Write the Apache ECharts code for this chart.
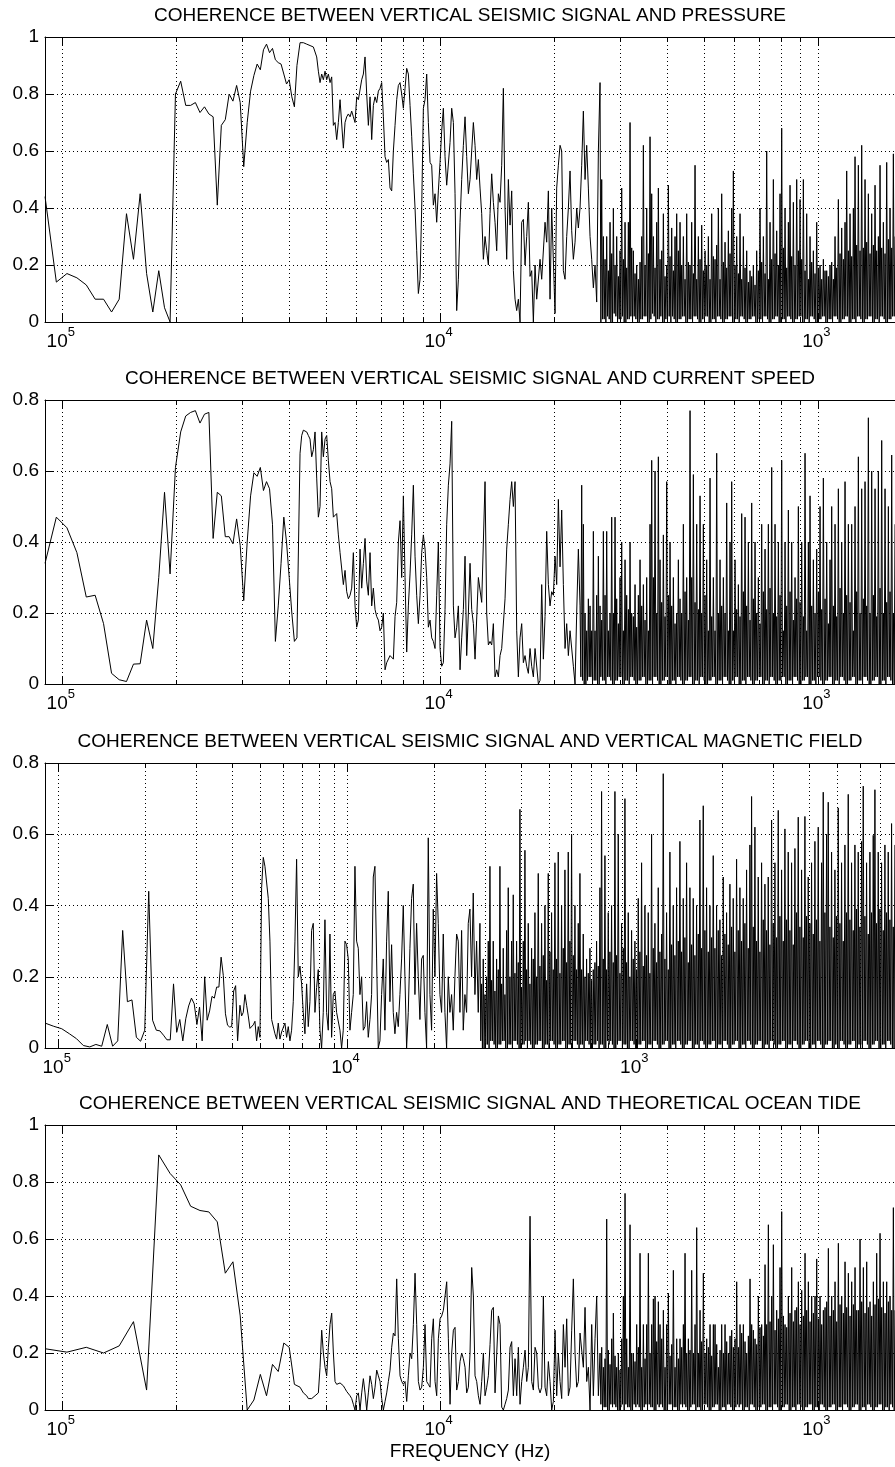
<!DOCTYPE html>
<html><head><meta charset="utf-8">
<script src="https://cdn.jsdelivr.net/npm/echarts@6.0.0/dist/echarts.min.js"></script>
<style>html,body{margin:0;padding:0;background:#fff}#c{width:895px;height:1467px}</style>
</head><body><div id="c"></div>
<script>
// ---------------- data ----------------
const DF = 6.43e-7;        // frequency resolution of spectra (Hz)
const DF_TIDE = 1.286e-6;  // resolution of the tide spectrum (Hz)
const LOG0 = -4.3707;      // log10 of first frequency of the log-spaced band
const STEP_A = 0.0044115;  // log10 step of log band (panels 1,2,4)
const STEP_C = 0.005771;   // log10 step of log band (panel 3)

const titles = [
  'COHERENCE BETWEEN VERTICAL SEISMIC SIGNAL AND PRESSURE',
  'COHERENCE BETWEEN VERTICAL SEISMIC SIGNAL AND CURRENT SPEED',
  'COHERENCE BETWEEN VERTICAL SEISMIC SIGNAL AND VERTICAL MAGNETIC FIELD',
  'COHERENCE BETWEEN VERTICAL SEISMIC SIGNAL AND THEORETICAL OCEAN TIDE'
];
const xLabelText = 'FREQUENCY (Hz)';
const xMajorTicks = [1e-5, 1e-4, 1e-3];
const xMin = 9e-6;
const xMax = [1.6e-3, 1.6e-3, 7.9e-3, 1.6e-3];
const yMax = [1, 0.8, 0.8, 1];

// ---- panel 1 : pressure ----
const p1Low = [0.44,0.14,0.17,0.155,0.13,0.08,0.08,0.035,0.08,0.38,
0.22,0.45,0.17,0.035,0.18,0.05,0.0,0.80,0.845,0.76,
0.76,0.77,0.735,0.755,0.73,0.72,0.41,0.69,0.71,0.80,
0.775,0.83,0.77,0.545,0.70,0.81,0.865,0.905,0.885,0.955,
0.975,0.945,0.96,0.92,0.91,0.905,0.87,0.835,0.85,0.79,
0.755,0.90];
const p1Mid = [0.98,0.985,0.98,0.98,0.975,0.975,0.97,0.97,0.965,0.96,
0.93,0.88,0.84,0.87,0.85,0.88,0.85,0.87,0.84,0.86,
0.69,0.70,0.64,0.70,0.78,0.78,0.61,0.70,0.72,0.73,
0.72,0.74,0.72,0.70,0.79,0.78,0.78,0.85,0.87,0.93,
0.80,0.69,0.79,0.64,0.76,0.79,0.77,0.81,0.82,0.84,
0.72,0.58,0.56,0.57,0.47,0.46,0.60,0.69,0.78,0.83,
0.84,0.80,0.75,0.82,0.89,0.87,0.76,0.65,0.52,0.40,
0.25,0.10,0.15,0.40,0.75,0.78,0.87,0.70,0.56,0.55,
0.41,0.45,0.35,0.46,0.56,0.67,0.75,0.58,0.48,0.48,
0.63,0.75,0.70,0.45,0.04,0.15,0.35,0.50,0.62,0.72,
0.58,0.45,0.50,0.60,0.70,0.62,0.50,0.57,0.47,0.38,
0.22,0.30,0.25,0.20,0.38,0.52,0.42,0.35,0.25,0.45,
0.42,0.55,0.82,0.40,0.22,0.50,0.34,0.46,0.18,0.08,
0.04,0.08,0.0,0.35,0.36,0.20,0.30,0.42,0.16,0.18,
0.0,0.20,0.08,0.08,0.22,0.15,0.15,0.35,0.28,0.46,
0.08,0.40,0.40,0.03,0.47,0.55,0.62,0.60,0.18,0.15,
0.30,0.40,0.53,0.32,0.22,0.28,0.40,0.33,0.40,
0.55,0.74,0.50,0.62,0.47,0.30,0.22,0.12,0.20,0.07,0.60,0.84];
const p1Dense = [0.0,0.50,0.01,0.30,0.01,0.22,0.0,0.30,0.02,0.18,0.01,0.35,0.0,0.24,0.0,0.40,
0.03,0.20,0.02,0.30,0.0,0.16,0.01,0.25,0.01,0.47,0.02,0.22,0.0,0.35,0.0,0.19,0.01,0.35,0.01,0.70,
0.02,0.26,0.0,0.25,0.02,0.17,0.01,0.20,0.0,0.15,0.0,0.21,0.01,0.30,0.01,0.62,0.02,0.20,0.02,0.40,
0.0,0.24,0.0,0.65,0.01,0.45,0.03,0.30,0.02,0.19,0.0,0.35,0.01,0.47,0.01,0.22,0.02,0.25,0.0,0.38,
0.0,0.16,0.01,0.20,0.01,0.48,0.02,0.23,0.0,0.33,0.02,0.18,0.01,0.30,0.0,0.38,0.0,0.25,0.01,0.35,
0.01,0.20,0.02,0.30,0.02,0.15,0.0,0.38,0.0,0.21,0.01,0.20,0.01,0.35,0.0,0.17,0.02,0.55,0.02,0.15,
0.01,0.30,0.0,0.22,0.0,0.34,0.01,0.18,0.01,0.25,0.02,0.20,0.02,0.30,0.0,0.15,0.0,0.38,0.01,0.23,
0.01,0.22,0.0,0.27,0.02,0.40,0.02,0.15,0.01,0.45,0.0,0.21,0.0,0.28,0.01,0.19,0.01,0.32,0.02,0.24,
0.02,0.40,0.0,0.53,0.0,0.20,0.01,0.30,0.01,0.17,0.0,0.38,0.02,0.15,0.02,0.30,0.01,0.19,0.0,0.25,
0.0,0.14,0.01,0.18,0.01,0.16,0.02,0.20,0.02,0.13,0.0,0.25,0.0,0.18,0.01,0.40,0.01,0.21,0.0,0.30,
0.02,0.17,0.02,0.60,0.01,0.15,0.0,0.35,0.0,0.22,0.01,0.50,0.01,0.24,0.02,0.32,0.02,0.20,0.0,0.45,
0.0,0.68,0.01,0.26,0.01,0.40,0.0,0.19,0.02,0.35,0.02,0.48,0.01,0.23,0.0,0.42,0.0,0.20,0.01,0.50,
0.01,0.25,0.02,0.43,0.02,0.22,0.0,0.50,0.0,0.18,0.01,0.38,0.01,0.15,0.0,0.30,0.02,0.21,0.02,0.25,
0.01,0.17,0.0,0.35,0.0,0.19,0.01,0.20,0.01,0.15,0.02,0.22,0.02,0.18,0.0,0.18,0.0,0.16,0.01,0.20,
0.01,0.21,0.0,0.15,0.02,0.30,0.02,0.19,0.01,0.43,0.0,0.24,0.0,0.33,0.01,0.22,0.01,0.35,0.02,0.53,
0.02,0.25,0.0,0.38,0.0,0.23,0.01,0.40,0.01,0.58,0.0,0.27,0.02,0.55,0.02,0.25,0.01,0.62,0.0,0.26,
0.0,0.50,0.01,0.28,0.01,0.45,0.02,0.24,0.02,0.38,0.0,0.27,0.0,0.48,0.01,0.25,0.01,0.30,0.0,0.55,
0.02,0.26,0.02,0.35,0.01,0.24,0.0,0.56,0.0,0.29,0.01,0.40,0.01,0.26,0.02,0.59,0.02,0.30];

// ---- panel 2 : current speed ----
const p2Low = [0.34,0.47,0.44,0.37,0.245,0.25,0.17,0.03,0.012,0.007,
0.056,0.057,0.18,0.10,0.30,0.54,0.31,0.61,0.71,0.755,
0.765,0.77,0.735,0.76,0.765,0.41,0.54,0.53,0.415,0.415,
0.395,0.465,0.39,0.235,0.40,0.53,0.595,0.585,0.61,0.545,
0.57,0.55,0.45,0.12,0.22,0.34,0.47,0.40,0.30,0.20,
0.12,0.13];
const p2Mid = [0.65,0.70,0.715,0.72,0.71,0.70,0.69,0.64,0.66,0.71,
0.58,0.47,0.50,0.71,0.64,0.69,0.70,0.63,0.57,0.55,
0.47,0.47,0.48,0.42,0.37,0.37,0.28,0.32,0.26,0.24,
0.25,0.27,0.37,0.22,0.16,0.18,0.38,0.27,0.34,0.41,
0.29,0.25,0.37,0.22,0.27,0.21,0.19,0.18,0.15,0.16,
0.20,0.04,0.06,0.06,0.08,0.08,0.07,0.19,0.23,0.40,
0.46,0.30,0.53,0.30,0.09,0.22,0.31,0.42,0.56,0.36,
0.25,0.17,0.25,0.37,0.42,0.38,0.30,0.16,0.18,0.13,
0.12,0.10,0.25,0.40,0.10,0.05,0.06,0.21,0.45,0.56,
0.62,0.74,0.22,0.13,0.16,0.22,0.04,0.13,0.21,0.36,
0.08,0.20,0.34,0.21,0.17,0.07,0.07,0.30,0.30,0.23,
0.40,0.57,0.20,0.11,0.12,0.11,0.17,0.02,0.04,0.02,
0.08,0.10,0.10,0.24,0.38,0.45,0.52,0.57,0.50,0.57,
0.15,0.02,0.13,0.17,0.06,0.08,0.05,0.03,0.10,0.05,
0.02,0.10,0.10,0.00,0.01,0.28,0.07,0.19,0.43,0.28,
0.22,0.26,0.25,0.36,0.28,0.52,0.33,0.49,0.28,0.10,
0.17,0.08,0.15,0.15,0.05,0.00,0.20,0.38,0.22];
const p2Dense = [0.02,0.56,0.01,0.45,0.0,0.20,0.0,0.15,0.01,0.24,0.02,0.22,0.02,0.15,0.0,0.43,0.01,0.15,0.01,0.25,
0.0,0.36,0.0,0.22,0.02,0.18,0.01,0.43,0.01,0.25,0.0,0.43,0.02,0.15,0.02,0.20,0.01,0.47,0.0,0.20,
0.0,0.47,0.01,0.24,0.01,0.17,0.02,0.30,0.02,0.40,0.0,0.15,0.0,0.35,0.01,0.25,0.01,0.21,0.0,0.40,
0.02,0.20,0.02,0.19,0.01,0.28,0.0,0.16,0.0,0.25,0.01,0.35,0.01,0.22,0.02,0.28,0.02,0.18,0.0,0.30,
0.0,0.15,0.01,0.45,0.01,0.63,0.0,0.30,0.02,0.60,0.02,0.20,0.01,0.64,0.0,0.35,0.0,0.23,0.01,0.42,
0.01,0.19,0.02,0.57,0.02,0.25,0.0,0.40,0.0,0.22,0.01,0.30,0.01,0.17,0.0,0.20,0.02,0.35,0.02,0.24,
0.01,0.20,0.0,0.45,0.0,0.26,0.01,0.30,0.01,0.18,0.02,0.77,0.02,0.30,0.0,0.59,0.0,0.23,0.01,0.45,
0.01,0.21,0.0,0.53,0.02,0.20,0.02,0.45,0.01,0.25,0.0,0.35,0.0,0.15,0.01,0.58,0.01,0.19,0.02,0.30,
0.02,0.15,0.0,0.65,0.0,0.20,0.01,0.35,0.01,0.22,0.0,0.30,0.02,0.20,0.02,0.51,0.01,0.15,0.0,0.40,
0.0,0.57,0.01,0.15,0.01,0.35,0.02,0.21,0.02,0.28,0.0,0.19,0.0,0.48,0.01,0.26,0.01,0.47,0.0,0.22,
0.02,0.40,0.02,0.18,0.01,0.51,0.0,0.24,0.0,0.40,0.01,0.20,0.01,0.30,0.02,0.17,0.02,0.45,0.0,0.26,
0.0,0.38,0.01,0.21,0.01,0.45,0.0,0.27,0.02,0.61,0.02,0.20,0.01,0.45,0.0,0.19,0.0,0.40,0.01,0.25,
0.01,0.63,0.02,0.15,0.02,0.40,0.0,0.22,0.0,0.49,0.01,0.26,0.01,0.40,0.0,0.18,0.02,0.30,0.02,0.24,
0.01,0.50,0.0,0.23,0.0,0.40,0.01,0.19,0.01,0.65,0.02,0.15,0.02,0.40,0.0,0.53,0.0,0.22,0.01,0.35,
0.01,0.20,0.0,0.38,0.02,0.26,0.02,0.50,0.01,0.21,0.0,0.58,0.0,0.24,0.01,0.40,0.01,0.17,0.02,0.35,
0.02,0.50,0.0,0.22,0.0,0.45,0.01,0.19,0.01,0.55,0.0,0.27,0.02,0.40,0.02,0.20,0.01,0.57,0.0,0.25,
0.0,0.45,0.01,0.23,0.01,0.45,0.02,0.15,0.02,0.50,0.0,0.26,0.0,0.64,0.01,0.20,0.01,0.55,0.0,0.24,
0.02,0.57,0.02,0.22,0.01,0.75,0.0,0.20,0.0,0.60,0.01,0.25,0.01,0.55,0.02,0.19,0.02,0.60,0.0,0.27,
0.0,0.686,0.01,0.20,0.01,0.55,0.0,0.23,0.02,0.50,0.02,0.26,0.01,0.645,0.0,0.20,0.0,0.45];

// ---- panel 3 : vertical magnetic field ----
const p3Low = [0.07,0.061,0.054,0.04,0.026,0.007,0.003,0.01,0.005,0.066,
0.005,0.02,0.33,0.13,0.135,0.03,0.019,0.05,0.44,0.078,
0.05,0.048,0.036,0.023,0.023,0.18,0.044,0.08,0.02,0.082,
0.118,0.14,0.124,0.066,0.115,0.02,0.2,0.078,0.104,0.145,
0.14,0.171,0.171,0.255,0.204,0.096,0.064,0.059,0.06,0.16,
0.175,0.02];
const p3Mid = [0.12,0.09,0.10,0.15,0.12,0.09,0.055,0.055,0.065,0.075,
0.02,0.06,0.03,0.45,0.535,0.51,0.51,0.42,0.30,0.08,
0.075,0.04,0.025,0.07,0.025,0.045,0.05,0.07,0.03,0.06,
0.02,0.05,0.13,0.30,0.53,0.20,0.23,0.18,0.10,0.04,
0.18,0.06,0.13,0.33,0.35,0.10,0.17,0.22,0.05,0.0,
0.10,0.36,0.10,0.05,0.32,0.03,0.15,0.16,0.10,0.10,
0.05,0.0,0.05,0.30,0.29,0.25,0.05,0.10,0.15,0.51,
0.30,0.28,0.15,0.20,0.05,0.06,0.13,0.03,0.08,0.15,
0.48,0.51,0.25,0.0,0.02,0.15,0.25,0.05,0.30,0.44,
0.13,0.29,0.10,0.04,0.10,0.06,0.15,0.25,0.40,0.20,
0.0,0.10,0.28,0.42,0.46,0.15,0.35,0.20,0.08,0.25,
0.26,0.10,0.0,0.59,0.15,0.05,0.39,0.20,0.49,0.35,
0.15,0.10,0.32,0.10,0.0,0.20,0.10,0.15,0.05,0.20,
0.32,0.30,0.10,0.33,0.05,0.15,0.10,0.35,0.39,0.20,
0.435,0.15,0.30,0.10,0.35];
const p3Dense = [0.02,0.18,0.0,0.25,0.0,0.15,0.01,0.20,0.01,0.30,
0.0,0.51,0.02,0.19,0.02,0.30,0.01,0.16,0.0,0.25,0.0,0.22,0.01,0.51,0.01,0.18,0.02,0.28,0.02,0.15,
0.0,0.33,0.0,0.45,0.01,0.20,0.01,0.30,0.0,0.43,0.02,0.21,0.02,0.30,0.01,0.24,0.0,0.67,0.0,0.17,
0.01,0.30,0.01,0.555,0.02,0.22,0.0,0.35,0.02,0.18,0.01,0.28,0.0,0.25,0.0,0.38,0.01,0.20,0.01,0.49,
0.02,0.23,0.02,0.35,0.0,0.26,0.0,0.40,0.01,0.19,0.01,0.49,0.0,0.27,0.02,0.38,0.02,0.22,0.01,0.52,
0.0,0.25,0.0,0.55,0.01,0.21,0.01,0.40,0.02,0.28,0.02,0.50,0.0,0.24,0.0,0.55,0.01,0.30,0.01,0.60,
0.0,0.26,0.02,0.40,0.02,0.22,0.01,0.35,0.0,0.49,
0.01,0.22,0.01,0.32,0.0,0.20,0.02,0.25,0.02,0.21,0.01,0.28,0.0,0.19,0.0,0.22,0.01,0.24,0.01,0.30,
0.02,0.23,0.0,0.45,0.01,0.72,0.01,0.25,0.0,0.54,0.0,0.22,0.02,0.38,0.01,0.27,0.02,0.40,0.01,0.24,
0.0,0.72,0.0,0.26,0.01,0.60,0.02,0.21,0.02,0.35,0.0,0.28,0.01,0.70,0.01,0.24,0.0,0.38,0.0,0.20,
0.02,0.33,0.02,0.25,0.01,0.30,0.0,0.22,0.0,0.42,0.01,0.27,0.01,0.52,0.02,0.23,0.02,0.40,0.0,0.26,
0.0,0.38,0.01,0.21,0.01,0.60,0.0,0.28,0.02,0.35,0.02,0.24,0.01,0.45,0.0,0.27,0.0,0.32,0.01,0.77,
0.01,0.25,0.02,0.38,0.02,0.22,0.0,0.55,0.0,0.29,0.01,0.40,0.01,0.26,0.0,0.45,0.02,0.30,0.02,0.58,
0.01,0.27,0.0,0.42,0.0,0.31,0.01,0.52,0.01,0.24,0.02,0.45,0.02,0.29,0.0,0.42,0.0,0.26,0.01,0.40,
0.01,0.32,0.0,0.64,0.02,0.28,0.02,0.68,0.01,0.33,0.0,0.45,0.0,0.27,0.01,0.40,0.01,0.31,0.02,0.54,
0.02,0.28,0.0,0.40,0.0,0.33,0.01,0.36,0.01,0.26,0.0,0.48,0.02,0.32,0.02,0.38,0.01,0.29,0.0,0.46,
0.0,0.34,0.01,0.42,0.01,0.27,0.02,0.53,0.02,0.33,0.0,0.45,0.0,0.30,0.01,0.42,0.01,0.35,0.0,0.50,
0.02,0.28,0.02,0.57,0.01,0.706,0.0,0.34,0.0,0.62,0.01,0.30,0.01,0.48,0.02,0.27,0.02,0.52,0.0,0.36,
0.0,0.46,0.01,0.33,0.01,0.48,0.0,0.29,0.02,0.64,0.02,0.35,0.01,0.52,0.0,0.31,0.0,0.667,0.01,0.37,
0.01,0.50,0.02,0.30,0.02,0.615,0.0,0.36,0.0,0.55,0.01,0.33,0.01,0.52,0.0,0.29,0.02,0.56,0.02,0.38,
0.01,0.648,0.0,0.34,0.0,0.50,0.01,0.31,0.01,0.65,0.02,0.37,0.02,0.48,0.0,0.35,0.0,0.52,0.01,0.32,
0.01,0.58,0.0,0.36,0.02,0.62,0.02,0.30,0.01,0.52,0.0,0.718,0.0,0.38,0.01,0.60,0.01,0.69,0.02,0.34,
0.02,0.55,0.0,0.31,0.0,0.50,0.01,0.37,0.01,0.674,0.0,0.35,0.02,0.52,0.02,0.30,0.01,0.57,0.0,0.38,
0.0,0.712,0.01,0.36,0.01,0.52,0.02,0.33,0.02,0.57,0.0,0.39,0.0,0.55,0.01,0.34,0.01,0.58,0.0,0.735,
0.02,0.37,0.02,0.52,0.01,0.32,0.0,0.55,0.0,0.38,0.01,0.597,0.01,0.725,0.02,0.35,0.02,0.55,0.0,0.39,
0.0,0.52,0.01,0.33,0.01,0.57,0.0,0.38,0.02,0.55,0.02,0.36,0.01,0.63,0.0,0.34,0.0,0.57];

// ---- panel 4 : theoretical ocean tide ----
const p4Low = [0.215,0.203,0.22,0.20,0.225,0.31,0.07,0.895,0.83,0.79,
0.715,0.70,0.695,0.66,0.48,0.52,0.33,0.0,0.035,0.125,
0.05,0.16,0.135,0.235,0.22,0.09];
const p4Mid = [0.08,0.075,0.06,0.055,0.05,0.04,0.035,0.04,0.045,0.05,
0.055,0.06,0.15,0.28,0.20,0.15,0.12,0.22,0.30,0.34,
0.20,0.10,0.09,0.095,0.095,0.09,0.085,0.075,0.065,0.06,
0.05,0.04,0.02,0.0,0.05,0.06,0.0,0.06,0.11,0.06,
0.0,0.06,0.12,0.09,0.04,0.08,0.14,0.12,0.10,0.04,
0.0,0.03,0.06,0.10,0.14,0.22,0.27,0.26,0.46,0.25,
0.12,0.10,0.09,0.10,0.03,0.12,0.20,0.18,0.30,0.48,
0.30,0.10,0.07,0.08,0.15,0.30,0.10,0.09,0.08,0.25,
0.32,0.10,0.05,0.25,0.32,0.33,0.35,0.40,0.45,0.25,
0.02,0.20,0.28,0.29,0.07,0.10,0.17,0.20,0.18,0.15,
0.06,0.08,0.20,0.50,0.40,0.12,0.10,0.05,0.02,0.10,
0.20,0.05,0.08,0.12,0.23,0.35,0.36,0.06,0.06,0.33,
0.30,0.01,0.0,0.02,0.04,0.07,0.22,0.24,0.05,0.18,
0.05,0.22,0.02,0.10,0.15,0.21,0.10,0.15,0.68,0.10,
0.07,0.22,0.20,0.08,0.06,0.08,0.40,0.08,0.05,0.17,
0.10,0.0,0.03,0.28,0.05,0.20,0.10,0.04,0.30,0.15,
0.32,0.05,0.08,0.28,0.46,0.20,0.08,0.10,0.27,
0.27,0.15,0.36,0.10,0.15,0.0,0.30,0.05,0.25,0.40,0.05,0.20];
const p4Dense = [0.02,0.22,0.0,0.15,0.01,0.18,0.01,0.67,0.0,0.21,0.0,0.16,0.02,0.25,0.01,0.34,
0.02,0.19,0.01,0.15,0.0,0.20,0.0,0.14,0.01,0.25,0.02,0.40,0.0,0.76,0.02,0.25,0.01,0.15,0.01,0.65,
0.0,0.20,0.0,0.20,0.02,0.17,0.01,0.30,0.02,0.22,0.01,0.55,0.0,0.15,0.0,0.30,0.01,0.18,0.02,0.30,
0.0,0.55,0.02,0.20,0.01,0.30,0.01,0.39,0.0,0.40,0.0,0.24,0.02,0.38,0.01,0.30,0.02,0.25,0.01,0.35,
0.0,0.15,0.0,0.30,0.01,0.41,0.02,0.19,0.02,0.23,0.0,0.49,0.01,0.15,0.01,0.25,0.0,0.18,0.0,0.25,
0.02,0.22,0.01,0.30,0.02,0.55,0.01,0.20,0.0,0.25,0.0,0.21,0.01,0.49,0.02,0.20,0.02,0.30,0.0,0.64,
0.01,0.20,0.01,0.35,0.0,0.24,0.0,0.48,0.02,0.20,0.02,0.25,0.01,0.22,0.0,0.30,0.0,0.19,0.01,0.30,
0.01,0.30,0.02,0.23,0.02,0.15,0.0,0.21,0.0,0.30,0.01,0.20,0.01,0.30,0.0,0.24,0.02,0.20,0.02,0.26,
0.01,0.28,0.0,0.22,0.0,0.25,0.01,0.45,0.02,0.22,0.01,0.30,0.02,0.27,0.0,0.30,0.0,0.24,0.01,0.20,
0.01,0.26,0.0,0.46,0.02,0.30,0.02,0.28,0.01,0.25,0.0,0.23,0.0,0.40,0.01,0.29,0.01,0.30,0.02,0.26,
0.02,0.51,0.0,0.30,0.0,0.65,0.01,0.31,0.01,0.40,0.0,0.58,0.02,0.28,0.02,0.35,0.01,0.32,0.0,0.50,
0.0,0.696,0.01,0.33,0.01,0.30,0.02,0.29,0.02,0.40,0.0,0.34,0.0,0.50,0.01,0.31,0.01,0.35,0.0,0.36,
0.02,0.45,0.02,0.30,0.01,0.42,0.0,0.33,0.0,0.55,0.01,0.35,0.01,0.45,0.02,0.31,0.02,0.40,0.0,0.34,
0.0,0.40,0.01,0.53,0.01,0.32,0.0,0.40,0.02,0.30,0.02,0.35,0.01,0.36,0.0,0.38,0.0,0.567,0.01,0.33,
0.01,0.40,0.02,0.35,0.02,0.45,0.0,0.31,0.0,0.585,0.01,0.37,0.01,0.40,0.0,0.34,0.02,0.52,0.02,0.36,
0.01,0.48,0.0,0.33,0.0,0.45,0.01,0.37,0.01,0.50,0.02,0.35,0.02,0.35,0.0,0.60,0.0,0.38,0.01,0.50,
0.01,0.34,0.0,0.52,0.02,0.36,0.02,0.38,0.01,0.33,0.0,0.45,0.0,0.37,0.01,0.55,0.01,0.39,0.02,0.62,
0.02,0.36,0.0,0.45,0.0,0.34,0.01,0.45,0.01,0.38,0.0,0.40,0.02,0.35,0.01,0.71,0.0,0.35];

// ---------------- chart ----------------
// low band: linear harmonics k*df; mid band: log steps; dense band: half log steps
function buildSeries(low, k0, df, mid, dense, step) {
  const d = [];
  low.forEach((v, i) => d.push([(k0 + i) * df, v]));
  mid.forEach((v, j) => d.push([Math.pow(10, LOG0 + j * step), v]));
  const j0 = mid.length - 0.5;
  dense.forEach((v, n) => d.push([Math.pow(10, LOG0 + (j0 + n * 0.5) * step), v]));
  return d;
}
const seriesData = [
  buildSeries(p1Low, 14, DF, p1Mid, p1Dense, STEP_A),
  buildSeries(p2Low, 14, DF, p2Mid, p2Dense, STEP_A),
  buildSeries(p3Low, 14, DF, p3Mid, p3Dense, STEP_C),
  buildSeries(p4Low, 7, DF_TIDE, p4Mid, p4Dense, STEP_A)
];

const FONT = "'Liberation Sans', Arial, Helvetica, sans-serif";
const grids = [
  {left: 45, top: 37, width: 850, height: 285},
  {left: 45, top: 400, width: 850, height: 284},
  {left: 45, top: 763, width: 850, height: 285},
  {left: 45, top: 1125, width: 850, height: 285}
];
const titleY = [16, 379, 742, 1104];

function minorTicks(max) {
  const t = [];
  for (let e = -6; e <= -1; e++) for (let m = 1; m <= 9; m++) {
    const v = m * Math.pow(10, e);
    if (v >= xMin && v <= max) t.push(v);
  }
  return t;
}
const GRIDLINE = {type: [1, 3], color: '#000', width: 1};
const xAxes = [], yAxes = [], series = [], graphics = [];
grids.forEach((g, i) => {
  const base = {type: 'log', logBase: 10, gridIndex: i, min: xMin, max: xMax[i], silent: true};
  const minors = minorTicks(xMax[i]);
  xAxes.push(Object.assign({}, base, {
    position: 'bottom',
    axisLine: {show: true, lineStyle: {color: '#000', width: 1}},
    axisTick: {show: true, inside: true, length: 4, customValues: minors, lineStyle: {color: '#000'}},
    splitLine: {show: true, lineStyle: GRIDLINE},
    axisLabel: {
      show: true, customValues: xMajorTicks, margin: 4, color: '#000',
      formatter: v => '{b|10}{e|' + Math.round(-Math.log10(v)) + '}',
      rich: {
        b: {fontSize: 19, fontFamily: FONT, color: '#000', lineHeight: 20, verticalAlign: 'bottom'},
        e: {fontSize: 13, fontFamily: FONT, color: '#000', verticalAlign: 'top', padding: [0, 3, 12, 0]}
      }
    }
  }));
  xAxes.push(Object.assign({}, base, {
    position: 'bottom', axisLine: {show: false},
    axisTick: {show: true, inside: true, length: 8, customValues: xMajorTicks, lineStyle: {color: '#000'}},
    splitLine: {show: false}, axisLabel: {show: false}
  }));
  xAxes.push(Object.assign({}, base, {
    position: 'top', axisLine: {show: true, lineStyle: {color: '#000', width: 1}},
    axisTick: {show: true, inside: true, length: 4, customValues: minors, lineStyle: {color: '#000'}},
    splitLine: {show: false}, axisLabel: {show: false}
  }));
  xAxes.push(Object.assign({}, base, {
    position: 'top', axisLine: {show: false},
    axisTick: {show: true, inside: true, length: 8, customValues: xMajorTicks, lineStyle: {color: '#000'}},
    splitLine: {show: false}, axisLabel: {show: false}
  }));
  yAxes.push({
    type: 'value', gridIndex: i, min: 0, max: yMax[i], interval: 0.2, silent: true,
    axisLine: {show: true, lineStyle: {color: '#000', width: 1}},
    axisTick: {show: true, inside: true, length: 8, lineStyle: {color: '#000'}},
    splitLine: {show: true, lineStyle: GRIDLINE},
    axisLabel: {fontSize: 19, fontFamily: FONT, color: '#000', margin: 6,
      formatter: v => String(Math.round(v * 10) / 10)}
  });
  series.push({
    type: 'line', xAxisIndex: i * 4, yAxisIndex: i, data: seriesData[i],
    showSymbol: false, symbol: 'none', silent: true, animation: false, clip: true,
    lineStyle: {color: '#000', width: 1}, z: 5
  });
  graphics.push({
    type: 'text', x: 470, y: titleY[i], silent: true,
    style: {text: titles[i], fill: '#000', fontSize: 19, fontFamily: FONT, align: 'center', verticalAlign: 'middle'}
  });
});
graphics.push({
  type: 'text', x: 470, y: 1452, silent: true,
  style: {text: xLabelText, fill: '#000', fontSize: 19, fontFamily: FONT, align: 'center', verticalAlign: 'middle'}
});

const chart = echarts.init(document.getElementById('c'), null, {renderer: 'canvas'});
chart.setOption({
  animation: false,
  backgroundColor: '#fff',
  textStyle: {fontFamily: FONT},
  grid: grids,
  xAxis: xAxes,
  yAxis: yAxes,
  series: series,
  graphic: graphics
});
</script>
</body></html>
